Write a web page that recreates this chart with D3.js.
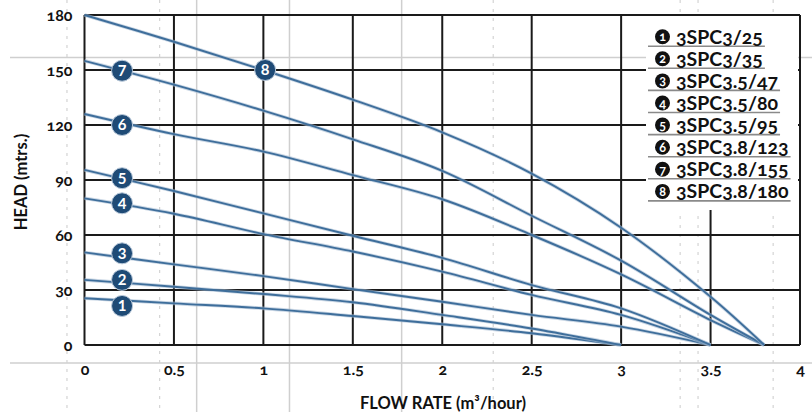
<!DOCTYPE html>
<html>
<head>
<meta charset="utf-8">
<script src="https://cdn.jsdelivr.net/npm/d3@7"></script>
<style>
  html, body { margin: 0; padding: 0; background: #fff; }
  svg { display: block; }
  .tick text { font-family: Lato, "Open Sans", sans-serif; font-weight: 700; font-size: 16px; fill: #111; font-variant-numeric: oldstyle-nums; }
  .title { font-family: Lato, "Open Sans", sans-serif; font-weight: 700; font-size: 16.5px; fill: #111; }
  .legend text { font-family: Lato, "Open Sans", sans-serif; font-weight: 700; font-variant-numeric: oldstyle-nums; }
</style>
</head>
<body>
<svg width="812" height="412"></svg>
<script>
// axis ticks
let flowTicks = [0, 0.5, 1, 1.5, 2, 2.5, 3, 3.5, 4];
let headTicks = [0, 30, 60, 90, 120, 150, 180];

// model names
let models = ['3SPC3/25', '3SPC3/35', '3SPC3.5/47', '3SPC3.5/80', '3SPC3.5/95', '3SPC3.8/123', '3SPC3.8/155', '3SPC3.8/180'];

// flow points (m3/hour)
let flow30 = [0, 0.5, 1, 1.5, 2, 2.5, 3];
let flow35 = [0, 0.5, 1, 1.5, 2, 2.5, 3, 3.5];
let flow38 = [0, 0.5, 1, 1.5, 2, 2.5, 3, 3.5, 3.8];

// head (m)
let head1 = [25.5, 22.7, 20, 15.8, 11.3, 6.4, 0];
let head2 = [35.5, 31.8, 27.8, 23.3, 16.4, 9, 0];
let head3 = [50.5, 44, 37.6, 30.5, 23.6, 16.4, 10, 0];
let head4 = [80, 71.6, 60.5, 51, 40, 27.3, 16.4, 0];
let head5 = [95.5, 84, 71.8, 59.6, 47.5, 32.7, 20, 0];
let head6 = [126, 115, 105.5, 92.7, 79.5, 60, 38.5, 13.6, 0];
let head7 = [155, 142, 127.8, 112.2, 95, 70.5, 46, 16.4, 0];
let head8 = [180, 165.4, 150, 133.8, 116, 93.5, 64, 26.3, 0];

// numbered badges on the curves
let badgeFlow = [0.21, 0.21, 0.21, 0.21, 0.21, 0.21, 0.21, 1.01];
let badgeHead = [21.3, 35.5, 50, 77.3, 91, 120, 149.6, 150];

// faint scan lines in the background
let scanFlow = [0.627, 1.146, 1.773];
let scanHead = [156.8, -9.8];
let scanDashFlow = [-0.098, 0.42, 2.285, 3.33, 3.43, 3.85];

let curves = [
	[flow30, head1], [flow30, head2], [flow35, head3], [flow35, head4],
	[flow35, head5], [flow38, head6], [flow38, head7], [flow38, head8]
];

let svg = d3.select('svg');
let margin = { top: 15, right: 12, bottom: 67, left: 84.5 };
let width = +svg.attr('width') - margin.left - margin.right;
let height = +svg.attr('height') - margin.top - margin.bottom;

let x = d3.scaleLinear().domain([0, 4]).range([0, width]);
let y = d3.scaleLinear().domain([0, 180]).range([height, 0]);

let chart = svg.append('g')
	.attr('transform', 'translate(' + margin.left + ', ' + margin.top + ')');

// background scan lines
chart.selectAll('.scanv').data(scanFlow).enter().append('line')
	.attr('x1', d => x(d)).attr('x2', d => x(d))
	.attr('y1', -margin.top).attr('y2', height + margin.bottom)
	.attr('stroke', '#cfcfcf').attr('stroke-width', 1.5);
chart.selectAll('.scanh').data(scanHead).enter().append('line')
	.attr('x1', -margin.left + 10).attr('x2', width + margin.right)
	.attr('y1', d => y(d)).attr('y2', d => y(d))
	.attr('stroke', '#cfcfcf').attr('stroke-width', 1.5);
chart.selectAll('.scand').data(scanDashFlow).enter().append('line')
	.attr('x1', d => x(d)).attr('x2', d => x(d))
	.attr('y1', -margin.top).attr('y2', height + margin.bottom)
	.attr('stroke', '#d4d4d4').attr('stroke-width', 1.2)
	.attr('stroke-dasharray', '3,6');

// grid
chart.selectAll('.gx').data(flowTicks).enter().append('line')
	.attr('x1', d => x(d)).attr('x2', d => x(d))
	.attr('y1', 0).attr('y2', height)
	.attr('stroke', '#1a1a1a').attr('stroke-width', 2);
chart.selectAll('.gy').data(headTicks).enter().append('line')
	.attr('x1', 0).attr('x2', width)
	.attr('y1', d => y(d)).attr('y2', d => y(d))
	.attr('stroke', '#1a1a1a').attr('stroke-width', 2);

// axes (labels only)
let xAxis = d3.axisBottom(x).tickValues(flowTicks).tickSize(0).tickPadding(19)
	.tickFormat(d => String(d));
let yAxis = d3.axisLeft(y).tickValues(headTicks).tickSize(0).tickPadding(12);

let gx = chart.append('g').attr('transform', 'translate(0, ' + height + ')').call(xAxis);
let gy = chart.append('g').call(yAxis);
gx.select('.domain').remove();
gy.select('.domain').remove();

// legend box (covers the grid)
let legend = svg.append('g').attr('class', 'legend');
legend.append('rect')
	.attr('x', 646).attr('y', 16).attr('width', 152).attr('height', 194)
	.attr('fill', '#fff');

// curves
let line = d3.line()
	.x(d => x(d[0]))
	.y(d => y(d[1]))
	.curve(d3.curveCatmullRom.alpha(0.5));

curves.map(function(c) {
	let pts = c[0].map((f, i) => [f, c[1][i]]);
	chart.append('path').datum(pts)
		.attr('fill', 'none')
		.attr('stroke', '#a5bbd2')
		.attr('stroke-width', 3.6)
		.attr('stroke-opacity', 0.6)
		.attr('d', line);
	chart.append('path').datum(pts)
		.attr('fill', 'none')
		.attr('stroke', '#3e6e9b')
		.attr('stroke-width', 1.9)
		.attr('d', line);
});

// badges
badgeFlow.map(function(f, i) {
	let g = chart.append('g')
		.attr('transform', 'translate(' + x(f) + ', ' + y(badgeHead[i]) + ')');
	g.append('circle').attr('r', 10.5).attr('fill', '#1f4b76')
		.attr('stroke', '#b9c9da').attr('stroke-width', 1);
	g.append('text').text(i + 1)
		.attr('text-anchor', 'middle').attr('dy', '0.36em')
		.attr('fill', '#fff')
		.style('font-family', 'Lato, "Open Sans", sans-serif')
		.style('font-weight', 700).style('font-size', '15px');
});

// legend entries
models.map(function(m, i) {
	let cy = 36.7 + i * 22.1;
	let row = legend.append('g').attr('transform', 'translate(0, ' + cy + ')');
	let t = row.append('text').text(m)
		.attr('x', 676).attr('dy', '0.35em')
		.attr('fill', '#111').style('font-size', '19.5px');
	let w = t.node().getComputedTextLength();
	row.insert('line', 'text')
		.attr('x1', 648).attr('x2', 676 + w + 2)
		.attr('y1', 9.5).attr('y2', 9.5)
		.attr('stroke', '#8a8a8a').attr('stroke-width', 1.6);
	row.append('circle').attr('cx', 662.5).attr('r', 7.5).attr('fill', '#111');
	row.append('text').text(i + 1)
		.attr('x', 662.5).attr('dy', '0.36em').attr('text-anchor', 'middle')
		.attr('fill', '#fff').style('font-size', '12.5px');
});

// right border over legend box
chart.append('line')
	.attr('x1', x(4)).attr('x2', x(4)).attr('y1', 0).attr('y2', height)
	.attr('stroke', '#1a1a1a').attr('stroke-width', 2);

// titles
svg.append('text').attr('class', 'title')
	.attr('x', 443).attr('y', 409).attr('text-anchor', 'middle')
	.text('FLOW RATE (m³/hour)');
svg.append('text').attr('class', 'title')
	.attr('transform', 'translate(27, 182) rotate(-90)')
	.attr('text-anchor', 'middle')
	.text('HEAD (mtrs.)');
</script>
</body>
</html>
